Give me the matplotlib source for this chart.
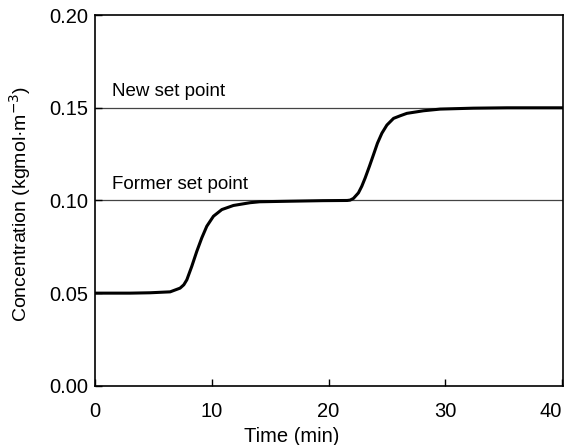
import matplotlib
import matplotlib.pyplot as plt

matplotlib.use("Agg")

plt.rcParams["font.family"] = ["Liberation Sans", "DejaVu Sans"]

# Courbe (points relevés à la main)
TIME = [0, 3, 4.71, 6.43, 7.28, 7.6, 7.86, 8.28, 8.71, 9.14, 9.57, 10.14, 10.86, 11.85, 13.28, 14.1, 16.7, 19.5,
		21.6, 21.85, 22.13, 22.56, 22.85, 23.14, 23.5, 23.85, 24.19, 24.57, 25.0, 25.57, 26.14, 26.71,
		28.13, 29.56, 32.4, 35.3, 40.1]
CONC = [0.05, 0.05, 0.0502, 0.0507, 0.0527, 0.0545, 0.0572, 0.0644, 0.0725, 0.0798, 0.0861, 0.0915, 0.0951, 0.0973,
		0.0988, 0.0993, 0.0996, 0.0999,
		0.1, 0.1002, 0.1011, 0.1041, 0.1077, 0.1122, 0.1184, 0.1247, 0.1309, 0.1363, 0.1407, 0.1443, 0.1457,
		0.1470, 0.1484, 0.1493, 0.1498, 0.15, 0.15]
SET_POINTS = [0.10, 0.15]
SET_LABELS = ["Former set point", "New set point"]
X_TICKS = [0, 10, 20, 30, 40]
Y_TICKS = [0.00, 0.05, 0.10, 0.15, 0.20]

fig = plt.figure(figsize=(5.66, 4.45), dpi=100)
ax = fig.add_axes([0.168, 0.133, 0.827, 0.833])

for sp, lab in zip(SET_POINTS, SET_LABELS):
	ax.axhline(sp, color="#444444", lw=0.9, zorder=1)
	ax.text(1.43, sp + 0.0062, lab, fontsize=13.5, ha="left", va="baseline")

ax.plot(TIME, CONC, color="black", lw=2.2, solid_capstyle="round", solid_joinstyle="round", zorder=2)

ax.set_xlim(0, 40.1)
ax.set_ylim(0, 0.20)
ax.set_xticks(X_TICKS)
ax.set_yticks(Y_TICKS)
ax.set_yticklabels([f"{v:.2f}" for v in Y_TICKS])
ax.tick_params(direction="in", length=5, width=1, labelsize=14.5)
ax.tick_params(axis="x", pad=12)
ax.tick_params(axis="y", pad=5)
ax.get_xticklabels()[-1].set_horizontalalignment("right")
for s in ax.spines.values():
	s.set_linewidth(1.2)

ax.set_xlabel("Time (min)", fontsize=14.5)
ax.xaxis.set_label_coords(0.42, -0.11)
ax.set_ylabel("Concentration (kgmol·m$^{-3}$)", fontsize=14)
ax.yaxis.set_label_coords(-0.132, 0.49)

fig.savefig("out.png", dpi=100)
plt.close(fig)
